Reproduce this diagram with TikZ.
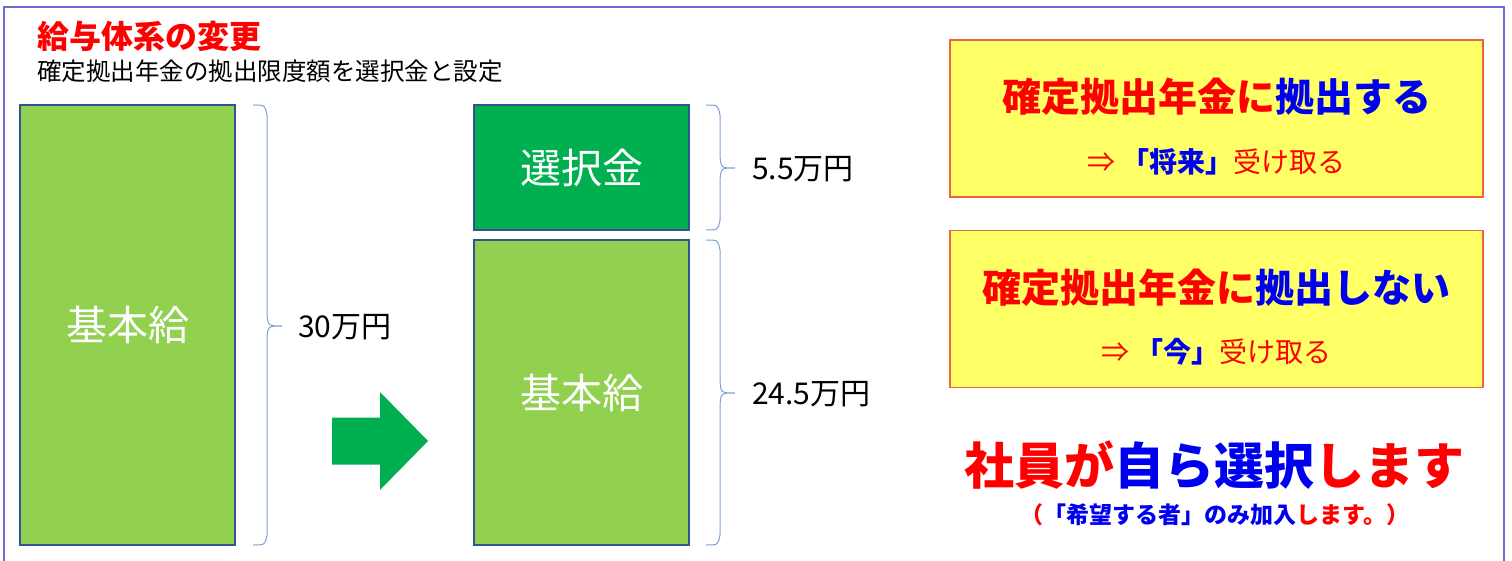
\documentclass[tikz,border=0pt]{standalone}
\usepackage{fontspec}
\setmainfont{Noto Sans CJK JP}
\usetikzlibrary{positioning}
\definecolor{framecol}{HTML}{6B6BD2}
\definecolor{lightgreen}{HTML}{92D050}
\definecolor{deepgreen}{HTML}{00B050}
\definecolor{boxline}{HTML}{2F5597}
\definecolor{bracecol}{HTML}{7F9FD8}
\definecolor{notepad}{HTML}{FFFF66}
\definecolor{noteline}{HTML}{F0643C}
\definecolor{txtred}{HTML}{FF0000}
\definecolor{txtblue}{HTML}{0000F0}
% right curly brace: x, top, mid, bottom
\newcommand{\sumbrace}[4]{%
  \draw[sumbrace] (#1,#2) .. controls (#1+12,#2) .. (#1+14,#2+10)
    -- (#1+14,#3-12) .. controls (#1+15,#3) .. (#1+29,#3)
    .. controls (#1+15,#3) .. (#1+14,#3+12)
    -- (#1+14,#4-10) .. controls (#1+12,#4) .. (#1,#4);}

\begin{document}
\begin{tikzpicture}[x=1pt, y=-1pt,
  salary/.style={draw=boxline, line width=1.6pt, inner sep=0pt,
    minimum width=215pt, text=white, font=\fontsize{41}{41}\selectfont},
  sumbrace/.style={draw=bracecol, line width=1pt},
  sumlabel/.style={inner sep=0pt, font=\fontsize{30}{30}\selectfont},
  notebox/.style={draw=noteline, line width=1.2pt, fill=notepad,
    minimum width=533pt, minimum height=157pt},
  headline/.style={inner sep=0pt, font=\bfseries\fontsize{39}{39}\selectfont},
  subline/.style={inner sep=0pt, text=txtred, font=\fontsize{28}{28}\selectfont}]
  \useasboundingbox (0,0) rectangle (1512,561);
  % outer frame, open at the bottom
  \draw[framecol, line width=1.4pt] (4,575) -- (4,7) -- (1504,7) -- (1504,575);
  % heading
  \node[anchor=west, inner sep=0pt, text=txtred,
    font=\bfseries\fontsize{32}{32}\selectfont] (title) at (37,36) {給与体系の変更};
  \node[anchor=west, inner sep=0pt, font=\fontsize{24.5}{24.5}\selectfont]
    (subtitle) at (37,71) {確定拠出年金の拠出限度額を選択金と設定};
  % before: basic pay only
  \node[salary, fill=lightgreen, minimum height=440pt] (oldbasic) at (127.5,325) {基本給};
  % after: selectable part on top of a smaller basic pay
  \node[salary, fill=deepgreen, minimum height=125pt] (choice) at (581.5,167.5) {選択金};
  \node[salary, fill=lightgreen, minimum height=305pt] (newbasic) at (581.5,392.5) {基本給};
  % braces and amounts
  \sumbrace{253}{105}{326}{545}
  \sumbrace{706}{105}{168}{230}
  \sumbrace{706}{240}{393}{545}
  \coordinate (oldtip) at (282,327);
  \coordinate (choicetip) at (735,169);
  \coordinate (newtip) at (735,394);
  \node[sumlabel, right=16pt of oldtip] (oldsum) {30万円};
  \node[sumlabel, right=17pt of choicetip] (choicesum) {5.5万円};
  \node[sumlabel, right=17pt of newtip] (newsum) {24.5万円};
  % block arrow between the two states
  \coordinate (arrowc) at (380,441);
  \fill[deepgreen] ([shift={(-48,-23.5)}]arrowc) -- ([shift={(0,-23.5)}]arrowc)
    -- ([shift={(0,-49)}]arrowc) -- ([shift={(48,0)}]arrowc)
    -- ([shift={(0,49)}]arrowc) -- ([shift={(0,23.5)}]arrowc)
    -- ([shift={(-48,23.5)}]arrowc) -- cycle;
  % the two options
  \node[notebox] (optin) at (1216.5,118.5) {};
  \node[headline] (optinhead) at ([yshift=21.5pt]optin.center)
    {\textcolor{txtred}{確定拠出年金に}\textcolor{txtblue}{拠出する}};
  \node[subline] (optinsub) at ([yshift=-43.5pt]optin.center)
    {⇒\ \textcolor{txtblue}{\bfseries 「将来」}受け取る};
  \node[notebox] (optout) at (1216.5,309) {};
  \node[headline] (optouthead) at ([yshift=21pt]optout.center)
    {\textcolor{txtred}{確定拠出年金に}\textcolor{txtblue}{拠出しない}};
  \node[subline] (optoutsub) at ([yshift=-43pt]optout.center)
    {⇒\ \textcolor{txtblue}{\bfseries 「今」}受け取る};
  % conclusion
  \node[inner sep=0pt, font=\bfseries\fontsize{50}{50}\selectfont] (choose) at (1214,465)
    {\textcolor{txtred}{社員が}\textcolor{txtblue}{自ら選択}\textcolor{txtred}{します}};
  \node[inner sep=0pt, font=\bfseries\fontsize{23}{23}\selectfont] (wish) at (1215,515)
    {\textcolor{txtred}{（}\textcolor{txtblue}{「希望する者」のみ加入}\textcolor{txtred}{します。）}};
\end{tikzpicture}
\end{document}
